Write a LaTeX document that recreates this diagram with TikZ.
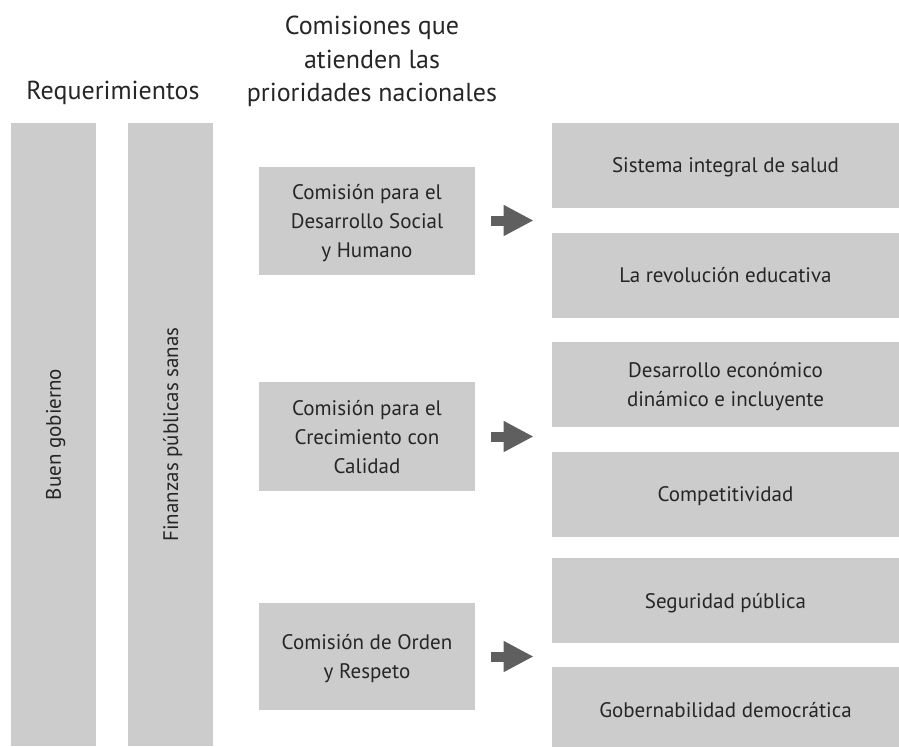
\documentclass[tikz,border=0pt]{standalone}
\usepackage{fontspec}
\setmainfont{PT Sans}
\definecolor{boxgray}{HTML}{CCCCCC}
\definecolor{arrowgray}{HTML}{5F5F5F}
\usetikzlibrary{arrows.meta}

\begin{document}
\begin{tikzpicture}[x=0.5pt, y=-0.5pt, every node/.style={text=black!85},
  box/.style={fill=boxgray, inner sep=0pt, align=center, text depth=0pt, font=\fontsize{10.5}{14.5}\selectfont},
  head/.style={inner sep=0pt, align=center, font=\fontsize{13}{16.75}\selectfont},
  bigarrow/.style={-{Triangle[length=15pt, width=14.5pt]}, line width=5pt, draw=arrowgray, shorten <=8pt, shorten >=9pt}]
  \clip (0,0) rectangle (899,746);
  % Column headings
  \node[head, anchor=base] (req) at (113,99) {Requerimientos};
  \node[head, anchor=north] (comhead) at (372,16) {Comisiones que\\atienden las\\prioridades nacionales};

  % Requirement bars (vertical text)
  \node[box, rotate=90, minimum width=311.5pt, minimum height=42.5pt] (buen) at (53.5,434.5) {Buen gobierno};
  \node[box, rotate=90, minimum width=311.5pt, minimum height=42.5pt] (finanzas) at (170.5,434.5) {Finanzas públicas sanas};

  % Commission boxes
  \node[box, minimum width=108pt, minimum height=54pt] (com1) at (367,220.5) {Comisión para el\\Desarrollo Social\\y Humano};
  \node[box, minimum width=108pt, minimum height=54.5pt] (com2) at (367,436.5) {Comisión para el\\Crecimiento con\\Calidad};
  \node[box, minimum width=108pt, minimum height=53.5pt] (com3) at (367,656.5) {Comisión de Orden\\y Respeto};

  % National priorities
  \node[box, minimum width=173.5pt, minimum height=42.5pt] (salud) at (725.5,165.5) {Sistema integral de salud};
  \node[box, minimum width=173.5pt, minimum height=42.5pt] (educa) at (725.5,275) {La revolución educativa};
  \node[box, minimum width=173.5pt, minimum height=42.5pt] (econo) at (725.5,384.5) {Desarrollo económico\\dinámico e incluyente};
  \node[box, minimum width=173.5pt, minimum height=42.5pt] (compet) at (725.5,494) {Competitividad};
  \node[box, minimum width=173.5pt, minimum height=42.5pt] (segur) at (725.5,600.5) {Seguridad pública};
  \node[box, minimum width=173.5pt, minimum height=42.5pt] (gober) at (725.5,709.5) {Gobernabilidad democrática};

  % Block arrows (commission -> priorities)
  \draw[bigarrow] (com1.east) -- (com1.east -| salud.west);
  \draw[bigarrow] (com2.east) -- (com2.east -| econo.west);
  \draw[bigarrow] (com3.east) -- (com3.east -| segur.west);
\end{tikzpicture}
\end{document}
